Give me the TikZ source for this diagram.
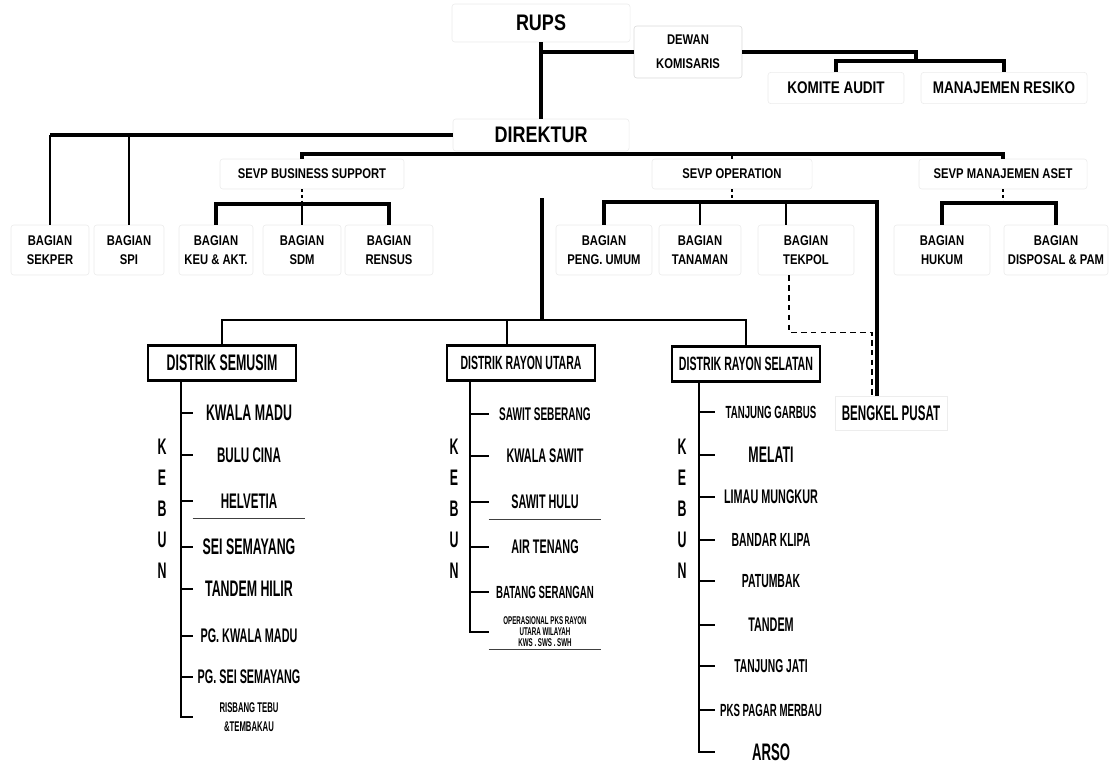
\documentclass[tikz,border=0pt]{standalone}
\usepackage{fontspec}
\setmainfont{Liberation Sans}
\newfontfamily\topfont[FakeStretch=0.8]{Liberation Sans}
\newfontfamily\kbfont[FakeStretch=0.55]{Liberation Sans}
\usetikzlibrary{positioning,calc}

\begin{document}
\begin{tikzpicture}[
  x=0.025cm, y=-0.025cm,
  topbox/.style={draw=black!8, rounded corners=2pt, fill=white, align=center, inner sep=1pt, font=\topfont\bfseries\fontsize{10}{14}\selectfont},
  bagian/.style={topbox, minimum height=1.25cm},
  sevp/.style={topbox, minimum height=0.75cm},
  distrik/.style={draw, line width=2pt, fill=white, minimum width=3.7cm, minimum height=0.875cm, inner sep=0pt, font=\kbfont\bfseries\fontsize{#1}{#1}\selectfont},
  kebun/.style={minimum width=2.8cm, minimum height=0.85cm, inner sep=0pt, align=center, font=\kbfont\bfseries\fontsize{#1}{#1}\selectfont},
  kbletters/.style={align=center, inner sep=0pt, font=\kbfont\bfseries\fontsize{16}{22}\selectfont},
  trunk/.style={line width=2.6pt},
  stem/.style={line width=2pt},
  midline/.style={line width=2pt},
  tickd/.style={line width=0.8pt, dash pattern=on 2pt off 2pt},
  dashlink/.style={line width=1.1pt, dash pattern=on 4pt off 3pt},
  rail/.style={line width=1.3pt},
  kbtick/.style={line width=1.1pt},
  sepline/.style={line width=0.9pt, black!75}
]
\useasboundingbox (0,0) rectangle (1110,770);

% pimpinan
\node[topbox, minimum width=4.45cm, minimum height=0.95cm, font=\topfont\bfseries\fontsize{16}{19}\selectfont] (rups) at (541,23) {RUPS};
\node[topbox, draw=black!15, minimum width=2.7cm, minimum height=1.3cm, font=\topfont\bfseries\fontsize{10}{17}\selectfont] (dewan) at (688,52) {DEWAN\\KOMISARIS};
\node[topbox, minimum width=3.4cm, minimum height=0.78cm, font=\topfont\bfseries\fontsize{12}{14}\selectfont] (komite) at (836,88) {KOMITE AUDIT};
\node[topbox, minimum width=4.15cm, minimum height=0.78cm, font=\topfont\bfseries\fontsize{12}{14}\selectfont] (resiko) at (1004,88) {MANAJEMEN RESIKO};
\node[topbox, minimum width=4.4cm, minimum height=0.8cm, font=\topfont\bfseries\fontsize{16}{19}\selectfont] (direktur) at (541,135) {DIREKTUR};

% sevp
\node[sevp, minimum width=4.6cm] (sevpbs) at (312,174) {SEVP BUSINESS SUPPORT};
\node[sevp, minimum width=4cm] (sevpop) at (732,174) {SEVP OPERATION};
\node[sevp, minimum width=4.2cm] (sevpaset) at (1003,174) {SEVP MANAJEMEN ASET};

% bagian
\node[bagian, minimum width=1.95cm] (sekper) at (50,250) {BAGIAN\\SEKPER};
\node[bagian, minimum width=1.75cm] (spi) at (129,250) {BAGIAN\\SPI};
\node[bagian, minimum width=1.85cm] (keu) at (216,250) {BAGIAN\\KEU \& AKT.};
\node[bagian, minimum width=1.95cm] (sdm) at (302,250) {BAGIAN\\SDM};
\node[bagian, minimum width=2.2cm] (rensus) at (389,250) {BAGIAN\\RENSUS};
\node[bagian, minimum width=2.4cm] (pengumum) at (604,250) {BAGIAN\\PENG. UMUM};
\node[bagian, minimum width=2.05cm] (tanaman) at (700,250) {BAGIAN\\TANAMAN};
\node[bagian, minimum width=2.4cm] (tekpol) at (806,250) {BAGIAN\\TEKPOL};
\node[bagian, minimum width=2.4cm] (hukum) at (942,250) {BAGIAN\\HUKUM};
\node[bagian, minimum width=2.6cm] (disposal) at (1056,250) {BAGIAN\\DISPOSAL \& PAM};

% distrik
\node[distrik=16] (semusim) at (222,363) {DISTRIK SEMUSIM};
\node[distrik=13.6] (utara) at (521,363) {DISTRIK RAYON UTARA};
\node[distrik=13.7] (selatan) at (746,364) {DISTRIK RAYON SELATAN};
\node[kebun=15, draw=black!7] (bengkel) at (891,413) {BENGKEL PUSAT};

% kebun distrik semusim
\node[kbletters] (kbsm) at (162,509) {K\\E\\B\\U\\N};
\node[kebun=16] (sm1) at (249,413) {KWALA MADU};
\node[kebun=15] (sm2) at (249,455) {BULU CINA};
\node[kebun=15] (sm3) at (249,501) {HELVETIA};
\node[kebun=16] (sm4) at (249,547) {SEI SEMAYANG};
\node[kebun=16] (sm5) at (249,589) {TANDEM HILIR};
\node[kebun=14] (sm6) at (249,636) {PG. KWALA MADU};
\node[kebun=14] (sm7) at (249,677) {PG. SEI SEMAYANG};
\node[kebun=10, font=\kbfont\bfseries\fontsize{10}{14}\selectfont] (sm8) at (249,717) {RISBANG TEBU\\\&TEMBAKAU};

% kebun distrik rayon utara
\node[kbletters] (kbut) at (454,509) {K\\E\\B\\U\\N};
\node[kebun=13] (ut1) at (545,414) {SAWIT SEBERANG};
\node[kebun=14] (ut2) at (545,456) {KWALA SAWIT};
\node[kebun=14] (ut3) at (545,502) {SAWIT HULU};
\node[kebun=14] (ut4) at (545,547) {AIR TENANG};
\node[kebun=12.5] (ut5) at (545,592) {BATANG SERANGAN};
\node[kebun=8, font=\kbfont\bfseries\fontsize{8}{7.8}\selectfont] (ut6) at (545,632) {OPERASIONAL PKS RAYON\\UTARA WILAYAH\\KWS . SWS . SWH};

% kebun distrik rayon selatan
\node[kbletters] (kbse) at (682,509) {K\\E\\B\\U\\N};
\node[kebun=12.5] (se1) at (771,412) {TANJUNG GARBUS};
\node[kebun=16] (se2) at (771,455) {MELATI};
\node[kebun=14] (se3) at (771,497) {LIMAU MUNGKUR};
\node[kebun=13.5] (se4) at (771,540) {BANDAR KLIPA};
\node[kebun=13.5] (se5) at (771,581) {PATUMBAK};
\node[kebun=14] (se6) at (771,625) {TANDEM};
\node[kebun=13.3] (se7) at (771,666) {TANJUNG JATI};
\node[kebun=12.5] (se8) at (771,710) {PKS PAGAR MERBAU};
\node[kebun=17] (se9) at (771,752) {ARSO};

% titik bantu
\coordinate (kombar) at (916,61);
\coordinate (sevpbar) at (545,154);
\coordinate (bsbar) at (302,204);
\coordinate (opbar) at (732,202);
\coordinate (asetbar) at (1003,203);
\coordinate (trunktop) at (542,198);
\coordinate (distbar) at (542,320);
\coordinate (bkin) at ([xshift=-0.35cm]bengkel.north);
\coordinate (bkdash) at ([xshift=-0.475cm]bengkel.north);
\coordinate (tekin) at ([xshift=-0.5cm]tekpol.north);
\coordinate (tekout) at ([xshift=-0.425cm]tekpol.south);
\coordinate (utin) at ([xshift=-0.35cm]utara.north);
\coordinate (smrail) at ([xshift=0.85cm]semusim.south west);
\coordinate (utrail) at ([xshift=0.6cm]utara.south west);
\coordinate (serail) at ([xshift=0.7cm]selatan.south west);

% garis atas
\draw[trunk] (rups.south) -- (direktur.north);
\draw[trunk] (rups.south |- dewan.west) -- (dewan.west);
\draw[trunk] (dewan.east) -| (kombar);
\draw[trunk] (komite.north) |- (kombar) -| (resiko.north);
\draw[trunk] (direktur.west) -- (direktur.west -| sekper.north);
\draw[stem] (sekper.north) -- (sekper.north |- direktur.west);
\draw[stem] (spi.north) -- (spi.north |- direktur.west);
\draw[trunk] (bsbar |- sevpbs.north) |- (sevpbar) -| (sevpaset.north);
\draw[tickd] (sevpop.north) -- (sevpop.north |- sevpbar);

% garis sevp
\draw[tickd] (bsbar |- sevpbs.south) -- (bsbar);
\draw[trunk] (keu.north) |- (bsbar) -| (rensus.north);
\draw[stem] (sdm.north) -- (bsbar);
\draw[tickd] (sevpop.south) -- (opbar);
\draw[trunk] (pengumum.north) |- (opbar) -| (bkin);
\draw[stem] (tanaman.north) -- (tanaman.north |- opbar);
\draw[stem] (tekin) -- (tekin |- opbar);
\draw[dashlink] (tekout) -- ++(0,57) -| (bkdash);
\draw[tickd] (sevpaset.south) -- (asetbar);
\draw[trunk] (hukum.north) |- (asetbar) -| (disposal.north);

% garis distrik
\draw[trunk] (trunktop) -- (distbar);
\draw[midline] (semusim.north) |- (distbar) -| (selatan.north);
\draw[midline] (utin) -- (utin |- distbar);

% garis kebun
\draw[rail] (smrail) |- (sm8.west);
\draw[kbtick] (sm1.west) -- (sm1.west -| smrail) (sm2.west) -- (sm2.west -| smrail)
  (sm3.west) -- (sm3.west -| smrail) (sm4.west) -- (sm4.west -| smrail)
  (sm5.west) -- (sm5.west -| smrail) (sm6.west) -- (sm6.west -| smrail)
  (sm7.west) -- (sm7.west -| smrail);
\draw[rail] (utrail) |- (ut6.west);
\draw[kbtick] (ut1.west) -- (ut1.west -| utrail) (ut2.west) -- (ut2.west -| utrail)
  (ut3.west) -- (ut3.west -| utrail) (ut4.west) -- (ut4.west -| utrail)
  (ut5.west) -- (ut5.west -| utrail);
\draw[rail] (serail) |- (se9.west);
\draw[kbtick] (se1.west) -- (se1.west -| serail) (se2.west) -- (se2.west -| serail)
  (se3.west) -- (se3.west -| serail) (se4.west) -- (se4.west -| serail)
  (se5.west) -- (se5.west -| serail) (se6.west) -- (se6.west -| serail)
  (se7.west) -- (se7.west -| serail) (se8.west) -- (se8.west -| serail);
\draw[sepline] (sm3.south west) -- (sm3.south east);
\draw[sepline] (ut3.south west) -- (ut3.south east);
\draw[sepline] (ut6.south west) -- (ut6.south east);
\end{tikzpicture}
\end{document}
